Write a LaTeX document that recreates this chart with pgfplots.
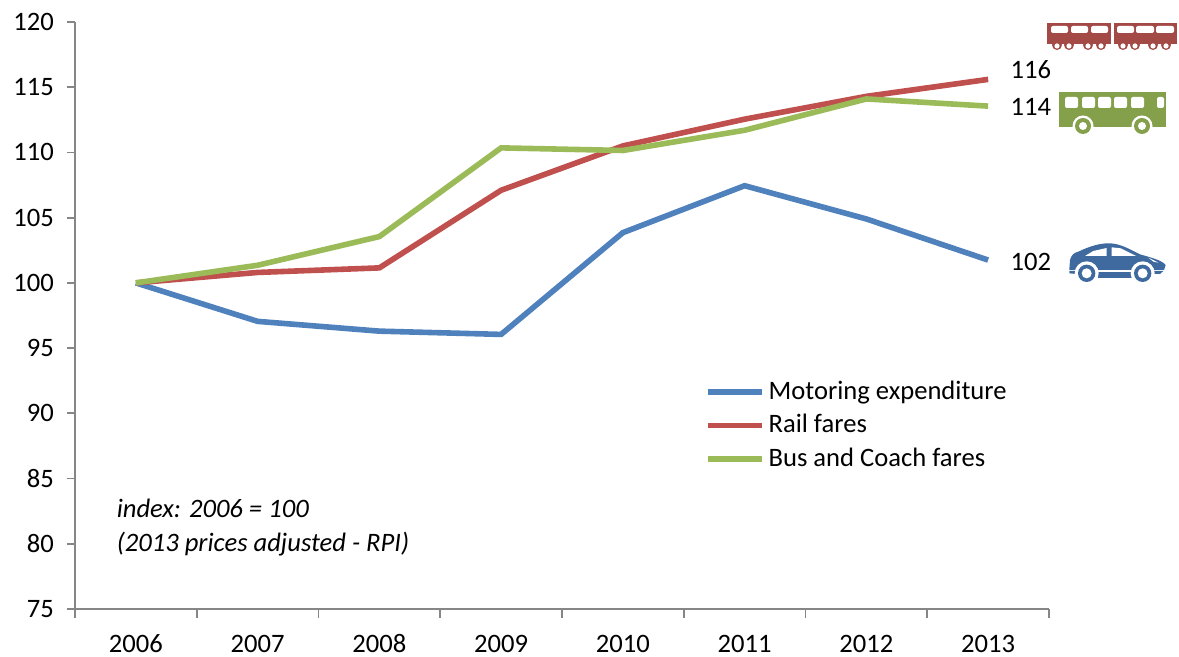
\documentclass[border=0pt]{standalone}
\usepackage{pgfplots}
\pgfplotsset{compat=1.18}
\usepackage{fontspec}
\setmainfont{Carlito}
\definecolor{cblue}{HTML}{4F81BD}
\definecolor{cred}{HTML}{C0504D}
\definecolor{cgreen}{HTML}{9BBB59}
\definecolor{axisgray}{HTML}{868686}
\definecolor{icred}{HTML}{A34A47}
\definecolor{icgreen}{HTML}{84A04B}
\definecolor{icblue}{HTML}{3F6A9F}
\begin{document}
\fontsize{13.3}{16}\selectfont
\begin{tikzpicture}
\useasboundingbox (-37.5pt,-24pt) rectangle (552pt,304.5pt);
\begin{axis}[
  at={(0pt,0pt)}, anchor=south west,
  scale only axis, width=487pt, height=293.5pt,
  xmin=-0.5, xmax=7.5, ymin=75, ymax=120,
  clip=false,
  axis lines=left,
  axis line style={-, draw=axisgray, line width=1pt},
  tick align=outside,
  major tick length=4pt, minor tick length=4.5pt,
  tick style={draw=axisgray, line width=0.9pt},
  major x tick style={draw=none},
  xtick={0,1,2,3,4,5,6,7},
  xticklabels={2006,2007,2008,2009,2010,2011,2012,2013},
  minor xtick={-0.5,0.5,1.5,2.5,3.5,4.5,5.5,6.5,7.5},
  ytick={75,80,85,90,95,100,105,110,115,120},
  /pgf/number format/assume math mode=true,
  tick label style={font=\fontsize{13.3}{16}\selectfont, black},
  xticklabel style={yshift=-4pt, text height=9pt, text depth=0pt},
  yticklabel style={xshift=-2pt},
  legend style={draw=none, fill=none, at={(315pt,115pt)}, anchor=north west,
    font=\fontsize{13.3}{16}\selectfont, row sep=4pt, inner sep=0pt, outer sep=0pt,
    nodes={inner ysep=0.8pt}},
  legend cell align=left,
  legend image code/.code={\draw[#1, line width=2.8pt] (0pt,0pt) -- (27pt,0pt);},
]
\addplot[cblue, line width=2.8pt] coordinates {(0,100) (1,97.05) (2,96.3) (3,96.05) (4,103.85) (5,107.45) (6,104.9) (7,101.75)};
\addplot[cred, line width=2.8pt] coordinates {(0,100) (1,100.8) (2,101.15) (3,107.1) (4,110.5) (5,112.55) (6,114.3) (7,115.6)};
\addplot[cgreen, line width=2.8pt] coordinates {(0,100) (1,101.35) (2,103.55) (3,110.35) (4,110.15) (5,111.7) (6,114.1) (7,113.55)};
\legend{Motoring expenditure, Rail fares, Bus and Coach fares}
\node[anchor=east, inner sep=0pt] at (axis cs:7.52,116.35) {116};
\node[anchor=east, inner sep=0pt] at (axis cs:7.52,113.5) {114};
\node[anchor=east, inner sep=0pt] at (axis cs:7.52,101.6) {102};
\node[anchor=west, inner sep=0pt, font=\fontsize{13.3}{16}\selectfont\itshape] at (axis cs:-0.16,82.75) {index: 2006 = 100};
\node[anchor=west, inner sep=0pt, font=\fontsize{13.3}{16}\selectfont\itshape] at (axis cs:-0.16,80) {(2013 prices adjusted - RPI)};
\end{axis}
% icons, in reference pixel coordinates
\begin{scope}[shift={(-37.5pt,304.5pt)},x=0.5pt,y=-0.5pt]
  % train
  \fill[icred] (1047,23) rectangle (1111,44);
  \fill[icred] (1114,23) rectangle (1177,44);
  \foreach \x in {1057,1069,1088,1101,1123,1135,1153,1166}{
    \fill[icred] (\x,45) circle (5);
    \fill[white] (\x,46) circle (2.6);
  }
  \foreach \a/\b in {1051/1068,1071/1088,1091/1108,1117/1134,1136/1154,1156/1174}{
    \fill[white,rounded corners=1pt] (\a,26) rectangle (\b,33);
  }
  % bus
  \fill[icgreen] (1059,92) rectangle (1166,127);
  \foreach \a/\b in {1065/1078,1082/1095,1098/1111,1114/1127,1131/1144,1157/1164}{
    \fill[white,rounded corners=1pt] (\a,97) rectangle (\b,108);
  }
  \foreach \x in {1083,1142}{
    \fill[white] (\x,126) circle (10.5);
    \fill[icgreen] (\x,126) circle (8);
    \fill[white] (\x,126) circle (4);
  }
\end{scope}
\begin{scope}[shift={(-37.5pt,304.5pt)},x=0.5pt,y=-0.5pt]
\begin{scope}[shift={(1000,220)},x=0.16667pt,y=-0.16667pt]
  \fill[icblue] (208,148) -- (210,120) .. controls (214,105) and (222,98) .. (235,95)
     .. controls (270,78) and (300,70) .. (325,70)
     .. controls (355,70) and (375,80) .. (420,103)
     .. controls (450,112) and (485,120) .. (497,135) -- (492,150) -- (208,150) -- cycle;
  \fill[icblue] (208,153) -- (232,153) -- (238,163) -- (208,160) -- cycle;
  \fill[icblue] (290,155) rectangle (400,173);
  \fill[icblue] (455,153) -- (490,153) -- (480,162) -- (458,162) -- cycle;
  \fill[white] (255,108) -- (280,93) -- (320,84) -- (320,108) -- cycle;
  \fill[white] (335,82) -- (362,85) -- (408,108) -- (335,108) -- cycle;
  \fill[white] (445,113) -- (475,128) -- (460,125) -- cycle;
  \foreach \x in {260,428}{
    \fill[white] (\x,160) circle (36);
    \fill[icblue] (\x,160) circle (26);
    \fill[white] (\x,160) circle (15);
  }
\end{scope}
\end{scope}
\end{tikzpicture}
\end{document}
